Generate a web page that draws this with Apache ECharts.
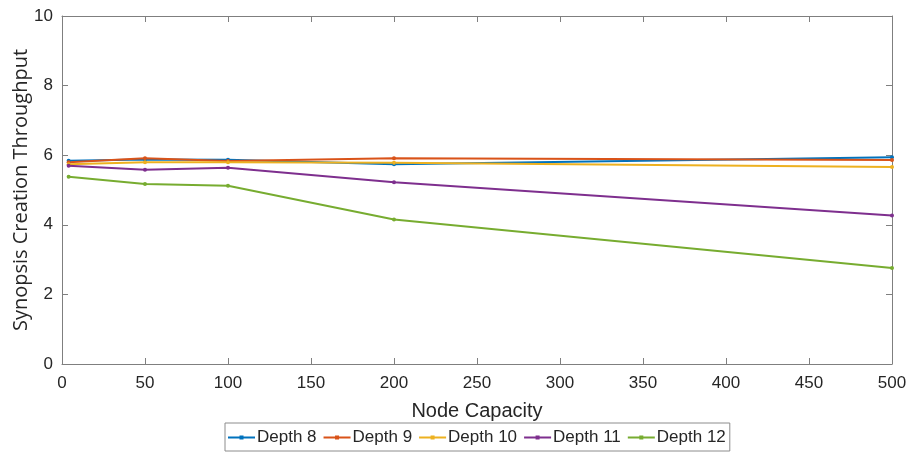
<!DOCTYPE html>
<html><head><meta charset="utf-8">
<script src="https://cdn.jsdelivr.net/npm/echarts@6/dist/echarts.min.js"></script>
<style>html,body{margin:0;padding:0;background:#fff}#c{width:914px;height:456px}</style>
</head><body><div id="c"></div>
<script>
const xValues = [4, 50, 100, 200, 500];
const depth8  = [5.84, 5.88, 5.87, 5.74, 5.94];
const depth9  = [5.80, 5.91, 5.83, 5.91, 5.86];
const depth10 = [5.74, 5.80, 5.80, 5.78, 5.66];
const depth11 = [5.70, 5.58, 5.64, 5.22, 4.27];
const depth12 = [5.38, 5.17, 5.12, 4.15, 2.76];
const seriesNames = ['Depth 8','Depth 9','Depth 10','Depth 11','Depth 12'];
const seriesData = [depth8, depth9, depth10, depth11, depth12];
const colors = ['#0072BD','#D95319','#EDB120','#7E2F8E','#77AC30'];
const FONT = 'Liberation Sans, Arial, sans-serif';
const chart = echarts.init(document.getElementById('c'));
const axisLine = {show:true, onZero:false, lineStyle:{color:'#7f7f7f', width:1}};
const tick = {show:true, inside:true, length:6, lineStyle:{color:'#7f7f7f'}};
chart.setOption({
  animation:false,
  color: colors,
  grid:{left:62, right:22, top:16, bottom:92, containLabel:false, outerBoundsMode:'none'},
  legend:{
    top:423, left:225,
    data: seriesNames,
    icon:'path://M0,2 L27,2 L27,4 L0,4 Z M11.5,1 L15.5,1 L15.5,5 L11.5,5 Z',
    itemWidth:27, itemHeight:6, itemGap:7,
    borderColor:'#8c8c8c', borderWidth:1, padding:[6,4,5,3],
    textStyle:{fontFamily:FONT, fontSize:17, color:'#262626', padding:[0,0,0,-3]}
  },
  xAxis:[{
    type:'value', min:0, max:500, interval:50,
    name:'Node Capacity', nameLocation:'middle', nameGap:37, nameMoveOverlap:false,
    nameTextStyle:{fontFamily:FONT, fontSize:20, color:'#262626'},
    axisLine, axisTick:tick, splitLine:{show:false},
    axisLabel:{fontFamily:FONT, fontSize:17, color:'#262626', margin:11}
  },{
    type:'value', min:0, max:500, interval:50, position:'top',
    axisLine, axisTick:tick, axisLabel:{show:false}, splitLine:{show:false}
  }],
  yAxis:[{
    type:'value', min:0, max:10, interval:2,
    name:'Synopsis Creation Throughput', nameLocation:'middle', nameGap:31, nameMoveOverlap:false,
    nameTextStyle:{fontFamily:'Open Sans, sans-serif', fontSize:20, color:'#262626'},
    axisLine, axisTick:tick, splitLine:{show:false},
    axisLabel:{fontFamily:FONT, fontSize:17, color:'#262626', margin:9}
  },{
    type:'value', min:0, max:10, interval:2, position:'right',
    axisLine, axisTick:tick, axisLabel:{show:false}, splitLine:{show:false}
  }],
  series: seriesNames.map((n,i)=>({
    name:n, type:'line',
    data: xValues.map((x,j)=>[x, seriesData[i][j]]),
    symbol:'circle', symbolSize:4, showSymbol:true,
    lineStyle:{width:2, color:colors[i]},
    itemStyle:{color:colors[i]}
  }))
});
</script></body></html>
